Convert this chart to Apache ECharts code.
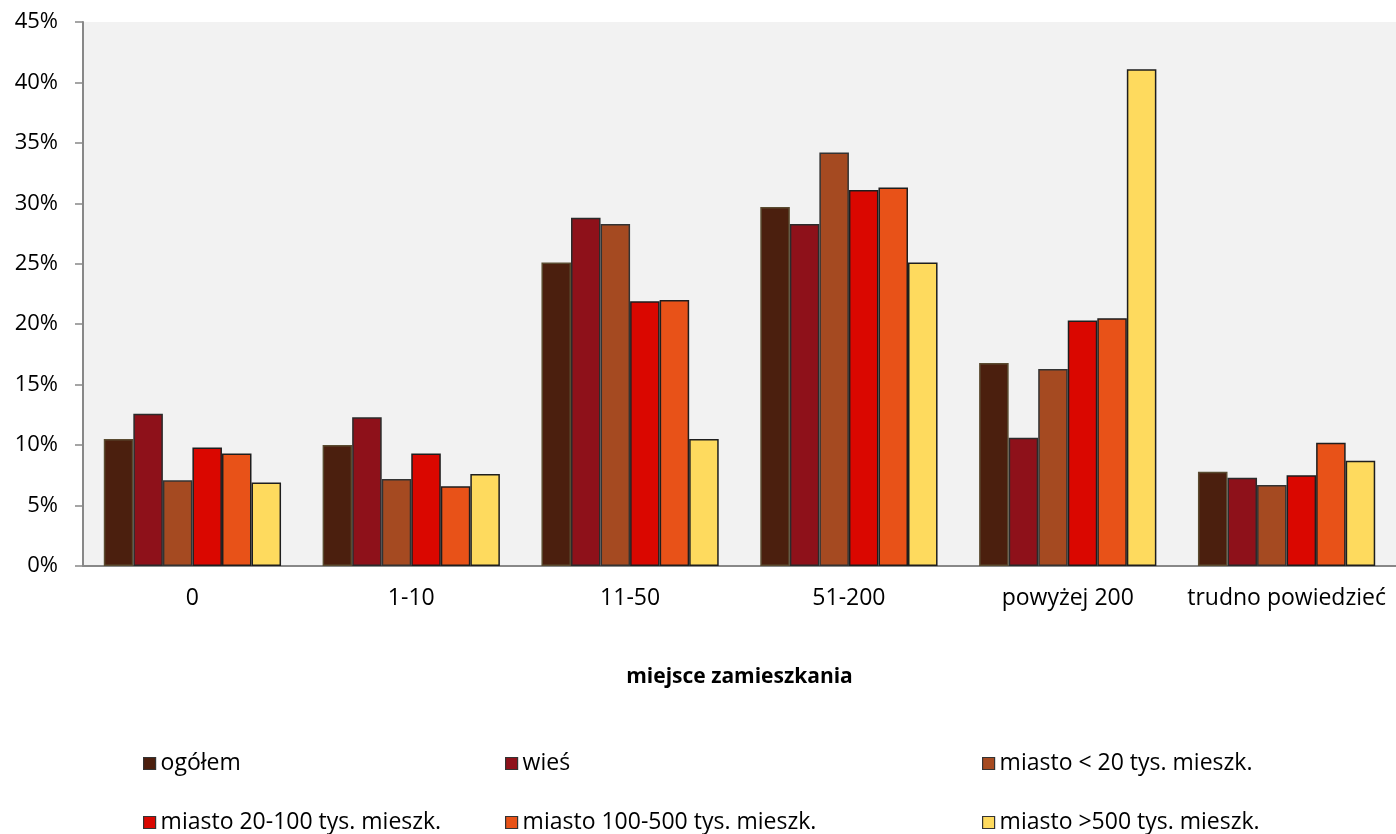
<!DOCTYPE html>
<html>
<head>
<meta charset="utf-8">
<script src="https://cdn.jsdelivr.net/npm/echarts@6/dist/echarts.min.js"></script>
<style>html,body{margin:0;padding:0;background:#fff}#c{width:1396px;height:834px}</style>
</head>
<body>
<div id="c"></div>
<script>
const categories = ['0', '1-10', '11-50', '51-200', 'powyżej 200', 'trudno powiedzieć'];
const seriesNames = ['ogółem', 'wieś', 'miasto < 20 tys. mieszk.', 'miasto 20-100 tys. mieszk.', 'miasto 100-500 tys. mieszk.', 'miasto >500 tys. mieszk.'];
const ogolem   = [10.5, 10.0, 25.1, 29.7, 16.8, 7.8];
const wies     = [12.6, 12.3, 28.8, 28.3, 10.6, 7.3];
const miasto20 = [7.1, 7.2, 28.3, 34.2, 16.3, 6.7];
const miasto100 = [9.8, 9.3, 21.9, 31.1, 20.3, 7.5];
const miasto500 = [9.3, 6.6, 22.0, 31.3, 20.5, 10.2];
const miastoOver500 = [6.9, 7.6, 10.5, 25.1, 41.1, 8.7];
const yTicks = [0, 5, 10, 15, 20, 25, 30, 35, 40, 45];
const axisTitle = 'miejsce zamieszkania';

const colors = ['#4B1F0E', '#8E111A', '#A54A21', '#DA0700', '#E85218', '#FEDA5E'];
const borders = ['#5A4B30', '#2B2B2B', '#333333', '#1E1E1E', '#1E1E1E', '#1E1E1E'];
const dataSets = [ogolem, wies, miasto20, miasto100, miasto500, miastoOver500];
const FONT = 'Open Sans';

const chart = echarts.init(document.getElementById('c'), null, {renderer: 'canvas'});

const legendPos = [[143, 761], [505, 761], [982, 761], [143, 820], [505, 820], [982, 820]];

const option = {
  backgroundColor: '#ffffff',
  animation: false,
  textStyle: {fontFamily: FONT},
  grid: {left: 83, right: 0, top: 22, bottom: 268, show: true, backgroundColor: '#F2F2F2', borderWidth: 0},
  legend: seriesNames.map((n, i) => ({
    data: [n],
    left: legendPos[i][0],
    top: legendPos[i][1] - 9,
    orient: 'horizontal',
    icon: 'rect',
    itemWidth: 12,
    itemHeight: 12,
    itemGap: 0,
    padding: 0,
    itemStyle: {borderColor: '#333333', borderWidth: 1.2},
    textStyle: {fontFamily: FONT, fontSize: 23, color: '#000', padding: [0, 0, 0, 0]},
    selectedMode: false
  })),
  xAxis: {
    type: 'category',
    data: categories,
    axisLine: {show: true, lineStyle: {color: '#888888', width: 2}},
    axisTick: {show: false},
    axisLabel: {fontFamily: FONT, fontSize: 23, color: '#000', margin: 21, interval: 0},
    name: axisTitle,
    nameLocation: 'middle',
    nameGap: 101,
    nameTextStyle: {fontFamily: FONT, fontSize: 21, fontWeight: 'bold', color: '#000'}
  },
  yAxis: {
    type: 'value',
    min: 0,
    max: 45,
    interval: 5,
    axisLine: {show: true, lineStyle: {color: '#888888', width: 2}},
    axisTick: {show: true, length: 8, lineStyle: {color: '#888888', width: 1.5}},
    splitLine: {show: false},
    axisLabel: {fontFamily: FONT, fontSize: 22, color: '#000', margin: 25, formatter: v => yTicks.includes(v) ? v + '%' : ''}
  },
  series: dataSets.map((d, i) => ({
    name: seriesNames[i],
    type: 'bar',
    data: d,
    barGap: '0%',
    barCategoryGap: '19%',
    itemStyle: {color: colors[i], borderColor: borders[i], borderWidth: 1.5},
    emphasis: {disabled: true}
  }))
};
chart.setOption(option);
</script>
</body>
</html>
